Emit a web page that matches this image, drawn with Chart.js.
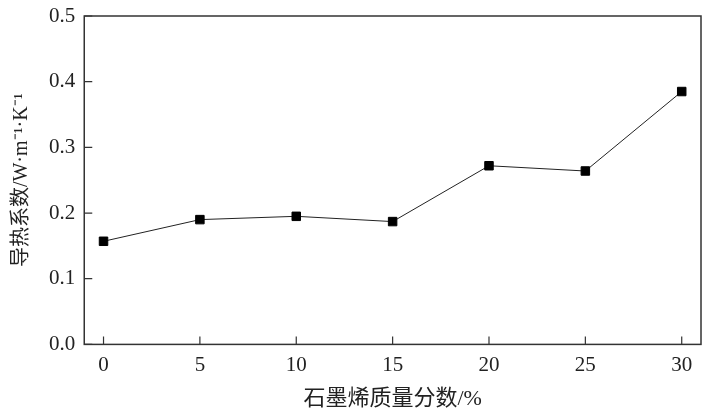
<!DOCTYPE html>
<html>
<head>
<meta charset="utf-8">
<script src="https://cdn.jsdelivr.net/npm/chart.js@4"></script>
<style>
  body { margin: 0; background: #fff; }
</style>
</head>
<body>
<canvas id="conductChart" width="712" height="413"></canvas>
<script>
// graphene mass fraction (%) and thermal conductivity (W/m/K)
const fractions = [0, 5, 10, 15, 20, 25, 30];
const conductivity = [0.157, 0.190, 0.195, 0.187, 0.272, 0.264, 0.385];
const yTicks = [0.0, 0.1, 0.2, 0.3, 0.4, 0.5];
const xTicks = [0, 5, 10, 15, 20, 25, 30];

const ctx1 = document.getElementById('conductChart');
const serif = "'Liberation Serif', 'Noto Sans CJK SC', serif";
const axisColor = '#333';

// box frame + inward ticks
const framePlugin = {
    id: 'frame',
    afterDraw(chart) {
        const c = chart.ctx;
        const a = chart.chartArea;
        const xs = chart.scales.x;
        const ys = chart.scales.y;
        c.save();
        c.strokeStyle = axisColor;
        c.lineWidth = 1.5;
        c.strokeRect(a.left, a.top, a.right - a.left, a.bottom - a.top);
        c.lineWidth = 1.2;
        c.beginPath();
        xTicks.forEach(function(v){
            const px = xs.getPixelForValue(v);
            c.moveTo(px, a.bottom);
            c.lineTo(px, a.bottom - 8);
        });
        yTicks.forEach(function(v){
            const py = ys.getPixelForValue(v);
            c.moveTo(a.left, py);
            c.lineTo(a.left + 8, py);
        });
        c.stroke();
        c.restore();
    }
};

new Chart(ctx1, {
    type: 'line',
    data: {
        datasets: [{
            data: fractions.map((f, i) => ({x: f, y: conductivity[i]})),
            borderColor: '#222',
            borderWidth: 1,
            pointStyle: 'rect',
            pointRadius: 6,
            pointBackgroundColor: '#000',
            pointBorderColor: '#000',
            tension: 0
        }]
    },
    options: {
        responsive: false,
        animation: false,
        layout: { padding: { top: 16, right: 11, left: 10, bottom: 1 } },
        plugins: {
            legend: { display: false },
            tooltip: { enabled: false }
        },
        scales: {
            x: {
                type: 'linear',
                min: -1,
                max: 31,
                afterBuildTicks: function(scale){ scale.ticks = xTicks.map(v => ({value: v})); },
                grid: { display: false, drawTicks: false },
                border: { display: false },
                ticks: {
                    padding: 8,
                    color: '#222',
                    font: { family: serif, size: 21 }
                },
                title: {
                    display: true,
                    text: '石墨烯质量分数/%',
                    color: '#222',
                    padding: { top: 0, bottom: 0 },
                    font: { family: serif, size: 22 }
                }
            },
            y: {
                min: 0,
                max: 0.5,
                afterBuildTicks: function(scale){ scale.ticks = yTicks.map(v => ({value: v})); },
                afterFit: function(scale){ scale.paddingTop = 0; },
                grid: { display: false, drawTicks: false },
                border: { display: false },
                ticks: {
                    padding: 9,
                    color: '#222',
                    font: { family: serif, size: 21 },
                    callback: v => v.toFixed(1)
                },
                title: {
                    display: true,
                    text: '导热系数/W·m⁻¹·K⁻¹',
                    color: '#222',
                    padding: { top: 0, bottom: 6 },
                    font: { family: serif, size: 20 }
                }
            }
        }
    },
    plugins: [framePlugin]
});
</script>
</body>
</html>
